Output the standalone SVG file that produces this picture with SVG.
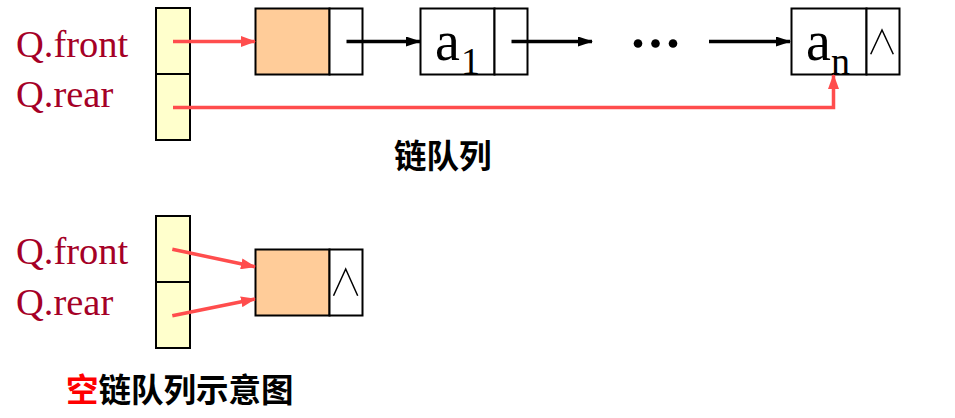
<svg xmlns="http://www.w3.org/2000/svg" width="955" height="418" viewBox="0 0 955 418">
<style>
.lbl{font-family:"Liberation Serif","Times New Roman",serif;font-size:38.5px;fill:#A50026}
.ptr{fill:#FFFFCC;stroke:#000;stroke-width:2}
.hd{fill:#FFCC99;stroke:#000;stroke-width:2}
.cell{fill:#FFFFFF;stroke:#000;stroke-width:2}
.red{stroke:#FF4D4D;stroke-width:3.5;fill:none}
.blk{stroke:#000;stroke-width:3.5;fill:none}
.nul{stroke:#000;stroke-width:1.5;fill:none}
.val{font-family:"Liberation Serif","Times New Roman",serif;font-size:56px;fill:#000}
.sub{font-family:"Liberation Serif","Times New Roman",serif;font-size:38px;fill:#000}
.cap{font-family:"Noto Sans CJK SC",sans-serif;font-weight:bold;font-size:32.5px;fill:#000}
</style>
<defs>
<marker id="ar" markerUnits="userSpaceOnUse" markerWidth="15" markerHeight="11" refX="14" refY="5.5" orient="auto"><path d="M0,0 L15,5.5 L0,11 z" fill="#FF4D4D"/></marker>
<marker id="ab" markerUnits="userSpaceOnUse" markerWidth="15" markerHeight="10" refX="14" refY="5" orient="auto"><path d="M0,0 L15,5 L0,10 z" fill="#000"/></marker>
</defs>
<g id="labels-top">
<text class="lbl" x="16" y="57">Q.front</text>
<text class="lbl" x="16" y="107">Q.rear</text>
</g>
<g id="ptr-top">
<rect class="ptr" x="156" y="8" width="34" height="66"/>
<rect class="ptr" x="156" y="74" width="34" height="66"/>
</g>
<g id="head">
<rect class="hd" x="255.5" y="8.5" width="74" height="66"/>
<rect class="cell" x="329.5" y="8.5" width="33" height="66"/>
</g>
<g id="a1">
<rect class="cell" x="420.5" y="8.5" width="74" height="66"/>
<rect class="cell" x="494.5" y="8.5" width="33" height="66"/>
<text class="val" x="435" y="60">a</text>
<text class="sub" x="461" y="74">1</text>
</g>
<g id="dots">
<circle cx="638" cy="43.5" r="4.3"/>
<circle cx="655.5" cy="43.5" r="4.3"/>
<circle cx="673" cy="43.5" r="4.3"/>
</g>
<g id="an">
<rect class="cell" x="791.5" y="8.5" width="75" height="66"/>
<rect class="cell" x="866.5" y="8.5" width="33" height="66"/>
<text class="val" x="806" y="60">a</text>
<text class="sub" x="831" y="74">n</text>
<polyline class="nul" points="870.7,54.3 882,30 893.3,54.3"/>
</g>
<g id="cap-top">
<text class="cap" x="394" y="168">链队列</text>
</g>
<g id="labels-bottom">
<text class="lbl" x="16" y="264">Q.front</text>
<text class="lbl" x="16" y="315">Q.rear</text>
</g>
<g id="ptr-bottom">
<rect class="ptr" x="156" y="216" width="34" height="66"/>
<rect class="ptr" x="156" y="282" width="34" height="66"/>
</g>
<g id="empty-node">
<rect class="hd" x="255.5" y="249.5" width="74" height="66"/>
<rect class="cell" x="329.5" y="249.5" width="33" height="66"/>
<polyline class="nul" points="333.5,295.7 345.7,269 357.7,295.7"/>
</g>
<g id="cap-bottom">
<text class="cap" x="66" y="402"><tspan fill="#FF0000">空</tspan>链队列示意图</text>
</g>
<g id="connectors">
<line class="red" x1="173" y1="41.5" x2="255" y2="41.5" marker-end="url(#ar)"/>
<polyline class="red" points="173,107.5 833.5,107.5 833.5,75" marker-end="url(#ar)"/>
<line class="blk" x1="346.5" y1="41.5" x2="420" y2="41.5" marker-end="url(#ab)"/>
<line class="blk" x1="511.5" y1="41.5" x2="592" y2="41.5" marker-end="url(#ab)"/>
<line class="blk" x1="709" y1="41.5" x2="790" y2="41.5" marker-end="url(#ab)"/>
<line class="red" x1="172.3" y1="249.3" x2="255" y2="266.7" marker-end="url(#ar)"/>
<line class="red" x1="172.3" y1="315.7" x2="255" y2="299" marker-end="url(#ar)"/>
</g>
</svg>
